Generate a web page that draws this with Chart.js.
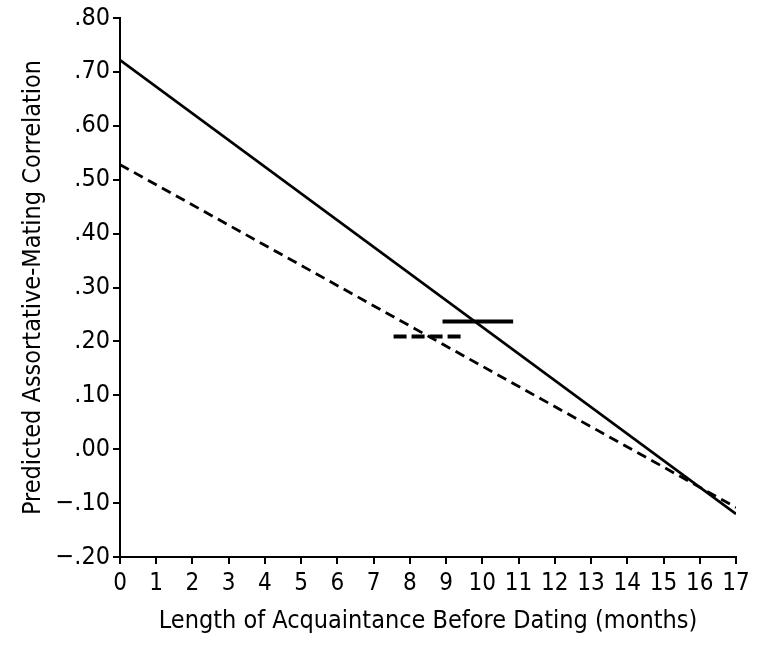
<!DOCTYPE html>
<html>
<head>
<meta charset="utf-8">
<script src="https://cdn.jsdelivr.net/npm/chart.js@4.4.1/dist/chart.umd.min.js"></script>
<style>
  html, body { margin: 0; padding: 0; background: #fff; }
  #wrap { width: 768px; height: 654px; }
</style>
</head>
<body>
<div id="wrap"><canvas id="chart"></canvas></div>
<script>
// regression lines: endpoints at 0 and 17 months
const months = [0, 17];
const solidLine = [0.722, -0.12];
const dashedLine = [0.528, -0.108];

// short horizontal marks (x from, x to, y)
const solidMarkX = [8.9, 10.85];
const solidMarkY = [0.237, 0.237];
const dashedMarkX = [7.55, 9.4];
const dashedMarkY = [0.209, 0.209];

const xTicks = [0, 1, 2, 3, 4, 5, 6, 7, 8, 9, 10, 11, 12, 13, 14, 15, 16, 17];
const yTicks = [-0.2, -0.1, 0, 0.1, 0.2, 0.3, 0.4, 0.5, 0.6, 0.7, 0.8];

const FONT = "'Liberation Sans Narrow', 'Arial Narrow', 'DejaVu Sans Condensed', 'Liberation Sans', Arial, sans-serif";

const pts = (xs, ys) => xs.map((x, i) => ({ x: x, y: ys[i] }));

function fmtY(v) {
    const s = Math.abs(v).toFixed(2).replace(/^0/, "");
    return v < -0.0001 ? "\u2212" + s : s;
}

new Chart(document.getElementById("chart"), {
    type: "line",
    data: {
        datasets: [
            { data: pts(months, solidLine), borderColor: "#000", borderWidth: 2.8, pointRadius: 0 },
            { data: pts(months, dashedLine), borderColor: "#000", borderWidth: 2.8, borderDash: [10, 6], pointRadius: 0 },
            { data: pts(solidMarkX, solidMarkY), borderColor: "#000", borderWidth: 4, pointRadius: 0 },
            { data: pts(dashedMarkX, dashedMarkY), borderColor: "#000", borderWidth: 4, borderDash: [13, 5], pointRadius: 0 },
        ],
    },
    options: {
        responsive: true,
        maintainAspectRatio: false,
        animation: false,
        layout: { padding: { top: 10, right: 32, left: 14, bottom: 14 } },
        plugins: { legend: { display: false }, tooltip: { enabled: false } },
        scales: {
            x: {
                type: "linear",
                min: 0,
                max: 17,
                afterBuildTicks: (s) => { s.ticks = xTicks.map(v => ({ value: v })); },
                grid: { drawOnChartArea: false, tickLength: 7, color: "#000", lineWidth: 2 },
                border: { color: "#000", width: 2 },
                ticks: { color: "#000", font: { family: FONT, size: 24 }, padding: 5, maxRotation: 0, autoSkip: false },
                title: { display: true, text: "Length of Acquaintance Before Dating (months)", color: "#000", font: { family: FONT, size: 25 }, padding: { top: 0 } },
                afterFit: (s) => { s.height = 654 - 557 - 14; },
            },
            y: {
                min: -0.2,
                max: 0.8,
                afterBuildTicks: (s) => { s.ticks = yTicks.map(v => ({ value: v })); },
                grid: { drawOnChartArea: false, tickLength: 7, color: "#000", lineWidth: 2 },
                border: { color: "#000", width: 2 },
                ticks: { color: "#000", font: { family: FONT, size: 25 }, padding: 3, callback: (v) => fmtY(v) },
                title: { display: true, text: "Predicted Assortative-Mating Correlation", color: "#000", font: { family: FONT, size: 25 }, padding: { bottom: 4 } },
                afterFit: (s) => { s.width = 120 - 14; },
            },
        },
    },
});
</script>
</body>
</html>
